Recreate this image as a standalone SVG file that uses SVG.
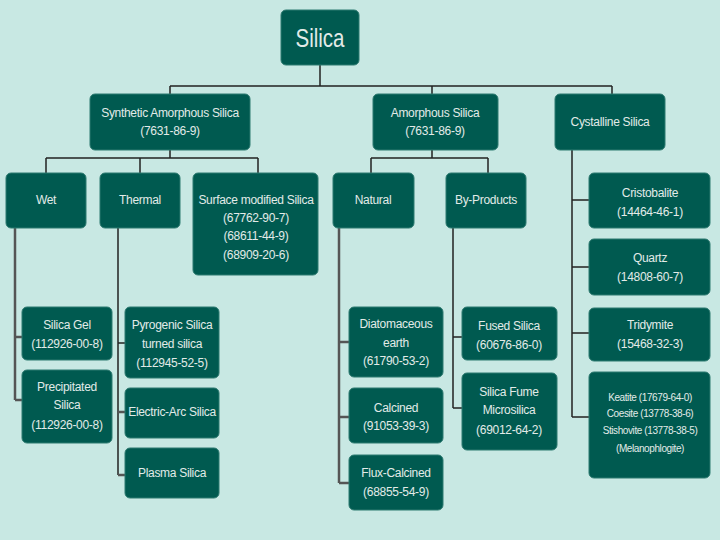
<svg xmlns="http://www.w3.org/2000/svg" width="720" height="540" viewBox="0 0 720 540">
<style>
.bx{fill:#005a50;stroke:#2d7a70;stroke-width:1}
text{font-family:"Liberation Sans",Arial,sans-serif;fill:#e2ebe8;font-size:12px;letter-spacing:-0.3px;text-anchor:middle}
.k{font-size:10px;letter-spacing:-0.4px}
.c{stroke:#222;stroke-width:1.5;fill:none}
.g{stroke:#555;stroke-width:2.5;fill:none}
</style>
<rect width="720" height="540" fill="#c8e8e3"/>
<g id="connectors">
<path class="c" d="M320 65V86M170 86H612M170 86V94M432 86V94M612 86V94"/>
<path class="c" d="M170 150V158M46 158H258M46 158V173M140 158V173M258 158V173"/>
<path class="c" d="M432 150V158M371 158H488M371 158V173M488 158V173"/>
<path class="c" d="M572 150V417M572 200H589M572 267H589M572 333H589M572 417H589"/>
<path class="g" d="M15 228V400M15 337H22M15 400H22"/>
<path class="c" d="M118 228V475M118 343H125"/>
<path class="g" d="M118 412H125M118 475H125"/>
<path class="g" d="M339 228V483M339 342H349M339 417H349M339 483H349"/>
<path class="c" d="M453 228V408M453 337H462M453 408H462"/>
</g>
<g id="silica"><rect class="bx" x="281" y="10" width="78" height="55" rx="5"/><text transform="translate(320,47) scale(0.82,1)" style="font-size:25px;letter-spacing:0">Silica</text></g>
<g id="synthetic"><rect class="bx" x="90" y="94" width="160" height="56" rx="5"/><text x="170" y="117">Synthetic Amorphous Silica</text><text x="170" y="135">(7631-86-9)</text></g>
<g id="amorphous"><rect class="bx" x="373" y="94" width="125" height="56" rx="5"/><text x="435" y="117">Amorphous Silica</text><text x="435" y="135">(7631-86-9)</text></g>
<g id="crystalline"><rect class="bx" x="555" y="94" width="110" height="56" rx="5"/><text x="610" y="126">Cystalline Silica</text></g>
<g id="wet"><rect class="bx" x="6" y="173" width="80" height="55" rx="5"/><text x="46" y="204">Wet</text></g>
<g id="thermal"><rect class="bx" x="100" y="173" width="80" height="55" rx="5"/><text x="140" y="204">Thermal</text></g>
<g id="surface"><rect class="bx" x="193" y="173" width="125" height="102" rx="5"/><text x="256" y="204">Surface modified Silica</text><text x="256" y="222">(67762-90-7)</text><text x="256" y="240">(68611-44-9)</text><text x="256" y="259">(68909-20-6)</text></g>
<g id="natural"><rect class="bx" x="333" y="173" width="81" height="55" rx="5"/><text x="373" y="204">Natural</text></g>
<g id="byproducts"><rect class="bx" x="446" y="173" width="80" height="55" rx="5"/><text x="486" y="204">By-Products</text></g>
<g id="cristobalite"><rect class="bx" x="589" y="173" width="121" height="55" rx="5"/><text x="650" y="197">Cristobalite</text><text x="650" y="216">(14464-46-1)</text></g>
<g id="quartz"><rect class="bx" x="589" y="239" width="121" height="56" rx="5"/><text x="650" y="262">Quartz</text><text x="650" y="281">(14808-60-7)</text></g>
<g id="tridymite"><rect class="bx" x="589" y="308" width="121" height="53" rx="5"/><text x="650" y="329">Tridymite</text><text x="650" y="348">(15468-32-3)</text></g>
<g id="keatite"><rect class="bx" x="589" y="372" width="121" height="106" rx="5"/><text class="k" x="650" y="401">Keatite (17679-64-0)</text><text class="k" x="650" y="417">Coesite (13778-38-6)</text><text class="k" x="650" y="434">Stishovite (13778-38-5)</text><text class="k" x="650" y="452">(Melanophlogite)</text></g>
<g id="silicagel"><rect class="bx" x="22" y="307" width="90" height="53" rx="5"/><text x="67" y="329">Silica Gel</text><text x="67" y="348">(112926-00-8)</text></g>
<g id="precipitated"><rect class="bx" x="22" y="370" width="90" height="73" rx="5"/><text x="67" y="391">Precipitated</text><text x="67" y="409">Silica</text><text x="67" y="429">(112926-00-8)</text></g>
<g id="pyrogenic"><rect class="bx" x="125" y="307" width="94" height="71" rx="5"/><text x="172" y="329">Pyrogenic Silica</text><text x="172" y="348">turned silica</text><text x="172" y="367">(112945-52-5)</text></g>
<g id="electricarc"><rect class="bx" x="125" y="388" width="94" height="50" rx="5"/><text x="172" y="416">Electric-Arc Silica</text></g>
<g id="plasma"><rect class="bx" x="125" y="448" width="94" height="50" rx="5"/><text x="172" y="477">Plasma Silica</text></g>
<g id="diatomaceous"><rect class="bx" x="349" y="307" width="94" height="70" rx="5"/><text x="396" y="328">Diatomaceous</text><text x="396" y="347">earth</text><text x="396" y="365">(61790-53-2)</text></g>
<g id="calcined"><rect class="bx" x="349" y="388" width="94" height="55" rx="5"/><text x="396" y="412">Calcined</text><text x="396" y="430">(91053-39-3)</text></g>
<g id="fluxcalcined"><rect class="bx" x="349" y="455" width="94" height="55" rx="5"/><text x="396" y="477">Flux-Calcined</text><text x="396" y="496">(68855-54-9)</text></g>
<g id="fused"><rect class="bx" x="462" y="307" width="95" height="53" rx="5"/><text x="509" y="330">Fused Silica</text><text x="509" y="349">(60676-86-0)</text></g>
<g id="fume"><rect class="bx" x="462" y="373" width="95" height="77" rx="5"/><text x="509" y="396">Silica Fume</text><text x="509" y="414">Microsilica</text><text x="509" y="434">(69012-64-2)</text></g>
</svg>
